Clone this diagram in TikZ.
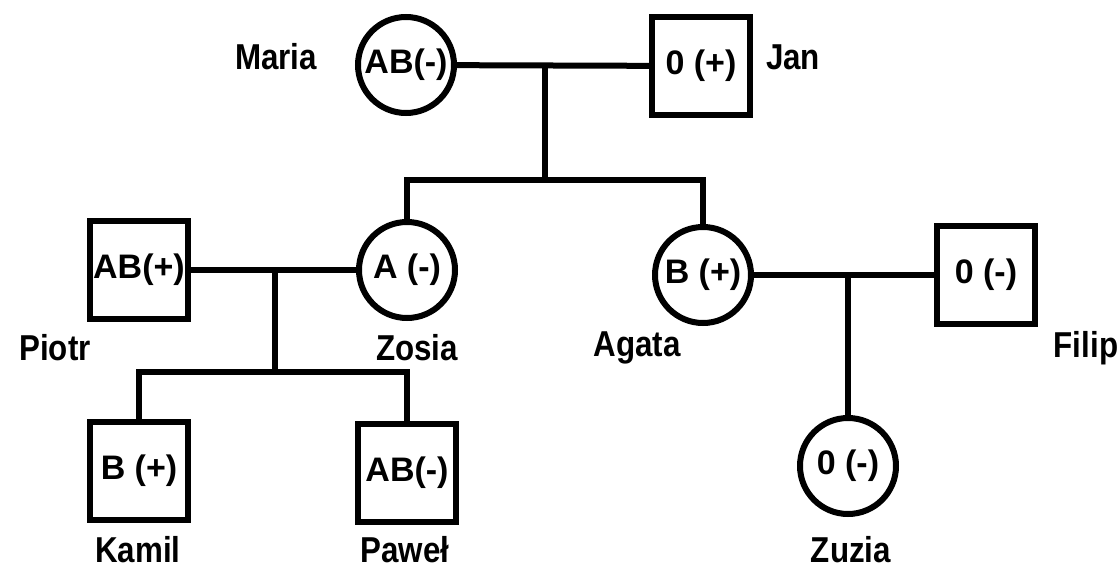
\documentclass[tikz,border=0pt]{standalone}
\usepackage{fontspec}
\setmainfont{Liberation Sans}
\newfontfamily\labfont{Liberation Sans}[FakeStretch=0.87]
\begin{document}
\begin{tikzpicture}[x=1pt,y=-1pt,
  every node/.style={font=\fontsize{34}{40}\selectfont\bfseries, inner sep=0pt},
  fem/.style={circle, draw, line width=6pt, minimum size=96pt},
  mal/.style={rectangle, draw, line width=6pt, minimum size=98pt},
  lab/.style={font=\labfont\fontsize{36}{40}\selectfont\bfseries},
  link/.style={line width=6pt}]
\useasboundingbox (0,0) rectangle (1120,573);
% generation 1
\node[fem] (maria) at (406,65) {AB(-)};
\node[mal] (jan) at (701,66) {0 (+)};
\node[lab] (lmaria) at (276,57) {Maria};
\node[lab] (ljan) at (793,57) {Jan};
% generation 2
\node[mal] (piotr) at (139,270) {AB(+)};
\node[fem] (zosia) at (407,270) {A (-)};
\node[fem] (agata) at (703,275) {B (+)};
\node[mal] (filip) at (986,275) {0 (-)};
\node[lab] (lpiotr) at (55,348) {Piotr};
\node[lab] (lzosia) at (417,348) {Zosia};
\node[lab] (lagata) at (637,348) {Agata};
\node[lab] (lfilip) at (1086,348) {Filip};
% generation 3
\node[mal] (kamil) at (139,471) {B (+)};
\node[mal] (pawel) at (407,473) {AB(-)};
\node[fem] (zuzia) at (848,466) {0 (-)};
\node[lab] (lkamil) at (138,550) {Kamil};
\node[lab] (lpawel) at (405,550) {Paweł};
\node[lab] (lzuzia) at (851,550) {Zuzia};
% connectors
\coordinate (m1) at (545,65);
\coordinate (c1) at (545,180);
\draw[link] (maria) -- (jan);
\draw[link] (m1) -- (c1);
\draw[link] (zosia.north) |- (c1) -| (agata.north);
\coordinate (m2) at (275,270);
\coordinate (c2) at (275,372);
\draw[link] (piotr) -- (zosia);
\draw[link] (m2) -- (c2);
\draw[link] (kamil.north) |- (c2) -| (pawel.north);
\coordinate (m3) at (848,275);
\draw[link] (agata) -- (filip);
\draw[link] (m3) -- (zuzia.north);
\end{tikzpicture}
\end{document}
